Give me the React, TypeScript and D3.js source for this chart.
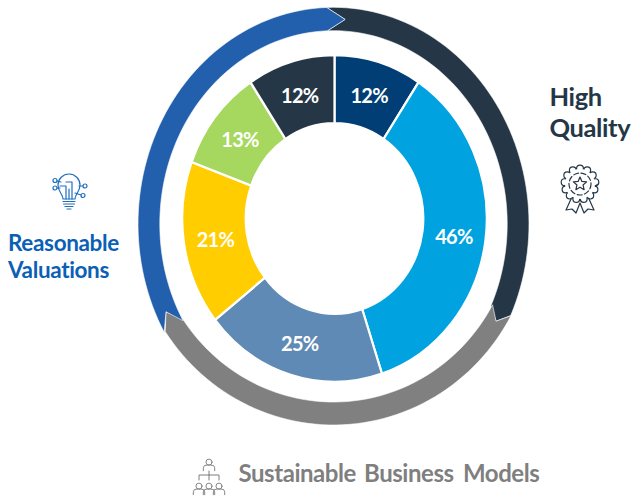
import React from "react";
import * as d3 from "d3";

const width = 632;
const height = 499;

// Portfolio split shown in the inner ring
const sliceLabels = ["12%", "46%", "25%", "21%", "13%", "12%"];
const sliceValues = [12, 46, 25, 21, 13, 12];
const sliceColors = ["#003E75", "#00A3E0", "#5F8AB5", "#FFCD00", "#A6D75F", "#253746"];

// Outer cycle of three chevron bands, as clock angles in degrees
const bandNames = ["High Quality", "Sustainable Business Models", "Reasonable Valuations"];
const bandColors = ["#253746", "#808080", "#2260AD"];
const bandTails = [358, 118.5, 240];
const bandHeads = [115, 236.4, 358];
const bandTips = [118.3, 241, 363.6];

type Oval = { cx: number; cy: number; ro: [number, number]; ri: [number, number] };
const upperOval: Oval = { cx: 333.5, cy: 224, ro: [195.5, 216.7], ri: [173.7, 193.3] };
const lowerOval: Oval = { cx: 333.5, cy: 216, ro: [202, 209], ri: [181, 186] };
const bandOvals = [upperOval, lowerOval, upperOval];

const toRad = d3.scaleLinear().domain([0, 360]).range([0, 2 * Math.PI]);

function onOval(o: Oval, deg: number, f: number): [number, number] {
  const rx = o.ri[0] + (o.ro[0] - o.ri[0]) * f;
  const ry = o.ri[1] + (o.ro[1] - o.ri[1]) * f;
  const a = toRad(deg);
  return [o.cx + rx * Math.sin(a), o.cy - ry * Math.cos(a)];
}

function bandPath(i: number): string {
  const o = bandOvals[i];
  const p = (i + 2) % 3;
  const t0 = bandTails[i];
  let t1 = bandHeads[i];
  if (t1 < t0) t1 += 360;
  const steps = d3.range(0, 61).map((k) => t0 + ((t1 - t0) * k) / 60);
  const outer = steps.map((t) => onOval(o, t, 1));
  const inner = [...steps].reverse().map((t) => onOval(o, t, 0));
  const tip = onOval(o, bandTips[i], 0.5);
  const notch = onOval(bandOvals[p], bandTips[p], 0.5);
  return d3.line()([...outer, tip, ...inner, notch]) + "Z";
}

const pie = d3.pie<number>().sort(null).value((d) => d);
const arc = d3.arc<d3.PieArcDatum<number>>().innerRadius(88.8).outerRadius(152.3);
const ringCenter = { x: 334.5, y: 218.5 };
const ringStretch = 1.0725;

const iconLine = { fill: "none", strokeLinecap: "round" as const, strokeLinejoin: "round" as const };

function BulbIcon() {
  return (
    <g transform="translate(69,192)" {...iconLine} stroke="#1F6FBF" strokeWidth={1.2}>
      <path d="M-6,7 C-6,2 -11,0 -11,-7 A11,11 0 0 1 11,-7 C11,0 6,2 6,7 Z" />
      <path d="M-6,9.5H6M-5.5,12H5.5M-4,14.5H4M-2,17H2" />
      <path d="M-3,7V-6H-9M3,7V-10H-3M0,7V-3" />
      <path d="M6,1 L12,3M10,-6H14M-8,-10L-12,-11M-9,-4H-12" />
      <circle cx={-14} cy={-11.5} r={2} />
      <circle cx={-14} cy={-4} r={2} />
      <circle cx={16} cy={-6} r={2} />
      <circle cx={14} cy={3.5} r={2} />
    </g>
  );
}

function MedalIcon() {
  const star = d3.range(0, 10).map((k) => {
    const r = k % 2 ? 3.2 : 7;
    const a = toRad(k * 36);
    return [r * Math.sin(a), -r * Math.cos(a)] as [number, number];
  });
  const petals = d3.range(0, 13).map((k) => {
    const a = toRad(k * (360 / 13));
    return [15.5 * Math.sin(a), -15.5 * Math.cos(a)] as [number, number];
  });
  return (
    <g transform="translate(580,184)" {...iconLine} stroke="#253746" strokeWidth={1.2}>
      {petals.map((pt, k) => (
        <circle key={k} cx={pt[0]} cy={pt[1]} r={3.4} fill="#fff" />
      ))}
      <circle r={15} fill="#fff" stroke="none" />
      <circle r={11} strokeDasharray="5 2.5" />
      <path d={d3.line()(star) + "Z"} />
      <path d="M-9,15 L-14,26 L-8,25 L-4,29 L0,19 L4,29 L8,25 L14,26 L9,15" />
    </g>
  );
}

function PeopleIcon() {
  const person = (x: number, y: number, s: number, k: number) => (
    <g key={k} transform={`translate(${x},${y}) scale(${s})`}>
      <circle cy={-3} r={3.2} />
      <path d="M-6,6 V3 Q-6,0 -2,0 H2 Q6,0 6,3 V6" />
    </g>
  );
  return (
    <g {...iconLine} stroke="#7F7F7F" strokeWidth={1}>
      {person(209, 465, 0.95, 0)}
      <path d="M209,471V475M199,480V475H219V480M209,475V480" />
      {person(199, 489, 0.95, 1)}
      {person(209, 489, 0.95, 2)}
      {person(219, 489, 0.95, 3)}
    </g>
  );
}

export default function App() {
  const slices = pie(sliceValues);
  return (
    <svg
      width={width}
      height={height}
      viewBox={`0 0 ${width} ${height}`}
      style={{ position: "absolute", left: 0, top: 0, background: "#fff" }}
      fontFamily="Lato, 'Open Sans', sans-serif"
    >
      {bandNames.map((name, i) => (
        <path key={name} d={bandPath(i)} fill={bandColors[i]} stroke="#fff" strokeWidth={0.6} />
      ))}
      <g transform={`translate(${ringCenter.x},${ringCenter.y}) scale(1,${ringStretch})`}>
        {slices.map((s, i) => (
          <path key={i} d={arc(s) ?? ""} fill={sliceColors[i]} stroke="#fff" strokeWidth={2.2} />
        ))}
      </g>
      {slices.map((s, i) => {
        const [x, y] = arc.centroid(s);
        return (
          <text
            key={i}
            x={ringCenter.x + x}
            y={ringCenter.y + y * ringStretch + 1.5}
            dy="0.35em"
            textAnchor="middle"
            fontSize={20}
            fontWeight={700}
            letterSpacing={-0.7}
            fill="#fff"
          >
            {sliceLabels[i]}
          </text>
        );
      })}
      <g fontWeight={700}>
        <g fontSize={25.5} letterSpacing={-0.4} fill="#253746">
          <text x={549.5} y={106}>High</text>
          <text x={549.5} y={137}>Quality</text>
        </g>
        <g fontSize={22.5} letterSpacing={-0.35} fill="#0B5FB5">
          <text x={8} y={250.5}>Reasonable</text>
          <text x={8} y={277.5}>Valuations</text>
        </g>
        <text y={482} fontSize={24} letterSpacing={-0.45} fill="#7F7F7F">
          <tspan x={238.5}>Sustainable</tspan>
          <tspan x={364}>Business</tspan>
          <tspan x={463}>Models</tspan>
        </text>
      </g>
      <BulbIcon />
      <MedalIcon />
      <PeopleIcon />
    </svg>
  );
}
